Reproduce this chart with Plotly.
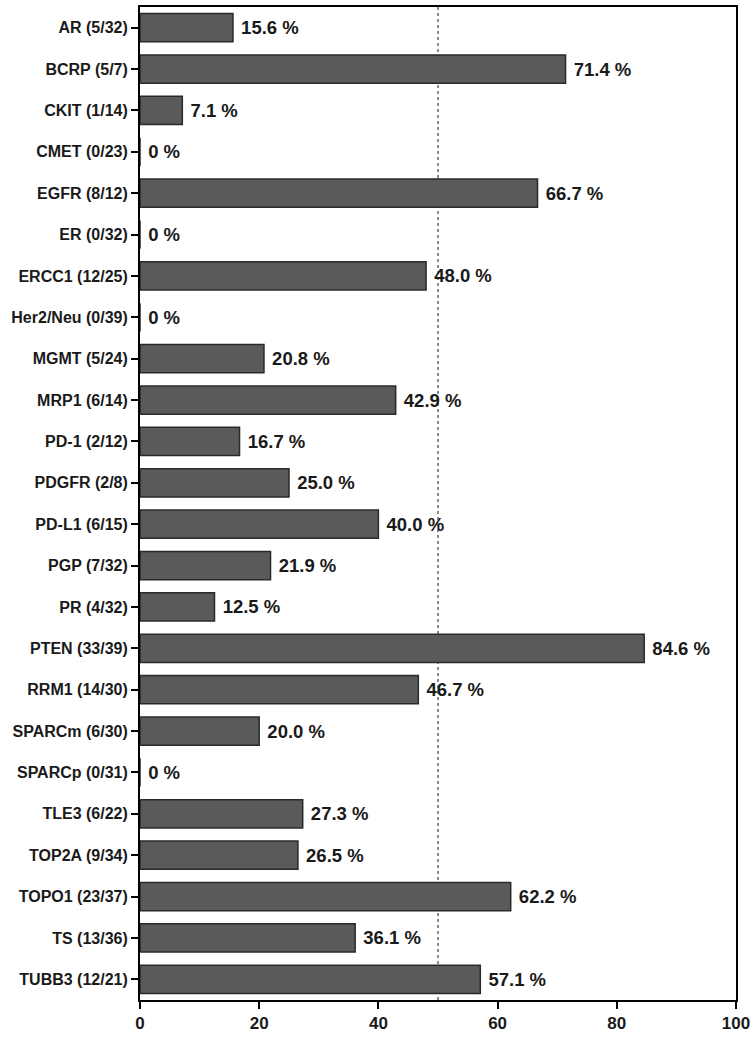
import plotly.graph_objects as go

markers = ["AR", "BCRP", "CKIT", "CMET", "EGFR", "ER", "ERCC1", "Her2/Neu", "MGMT",
           "MRP1", "PD-1", "PDGFR", "PD-L1", "PGP", "PR", "PTEN", "RRM1", "SPARCm",
           "SPARCp", "TLE3", "TOP2A", "TOPO1", "TS", "TUBB3"]
counts = ["5/32", "5/7", "1/14", "0/23", "8/12", "0/32", "12/25", "0/39", "5/24",
          "6/14", "2/12", "2/8", "6/15", "7/32", "4/32", "33/39", "14/30", "6/30",
          "0/31", "6/22", "9/34", "23/37", "13/36", "12/21"]
percent = [15.6, 71.4, 7.1, 0, 66.7, 0, 48.0, 0, 20.8, 42.9, 16.7, 25.0, 40.0, 21.9,
           12.5, 84.6, 46.7, 20.0, 0, 27.3, 26.5, 62.2, 36.1, 57.1]
x_ticks = [0, 20, 40, 60, 80, 100]

labels = ["{} ({})".format(m, c) for m, c in zip(markers, counts)]
# leading non-breaking space pushes the value labels away from the bar ends
texts = ["\u00a0" + ("0 %" if p == 0 else "{:.1f} %".format(p)) for p in percent]

fig = go.Figure()
fig.add_trace(go.Bar(y=labels, x=percent, orientation="h",
                     width=0.68,
                     marker=dict(color="#5a5a5a", line=dict(color="#2a2a2a", width=1.5)),
                     text=texts, textposition="outside", cliponaxis=False,
                     textfont=dict(size=18.5, color="#1a1a1a", family="Liberation Sans",
                                   weight="bold")))

# dotted reference line at 50 %
fig.add_shape(type="line", xref="x", yref="paper", x0=50, x1=50, y0=0, y1=1,
              layer="below", line=dict(color="#666666", width=1.5, dash="dot"))

fig.update_layout(autosize=False, width=755, height=1038,
                  margin=dict(l=140, r=18, t=5, b=36),
                  plot_bgcolor="white", paper_bgcolor="white",
                  showlegend=False,
                  font=dict(family="Liberation Sans", color="#1a1a1a"))

fig.update_xaxes(range=[0, 100], tickvals=x_ticks, showgrid=False, zeroline=False,
                 showline=True, linecolor="black", linewidth=2, mirror=True,
                 ticks="outside", ticklen=7, tickwidth=2, tickcolor="black",
                 tickfont=dict(size=17, weight="bold"))
fig.update_yaxes(autorange="reversed", showgrid=False, zeroline=False,
                 showline=True, linecolor="black", linewidth=2, mirror=True,
                 ticks="outside", ticklen=7, tickwidth=1.5, tickcolor="black",
                 tickfont=dict(size=16, weight="bold"))

# the page body has a default 8px margin; drop it so the figure fills the window
fig.write_html("out.html", config={"displayModeBar": False},
               post_script="document.body.style.margin='0px';")
